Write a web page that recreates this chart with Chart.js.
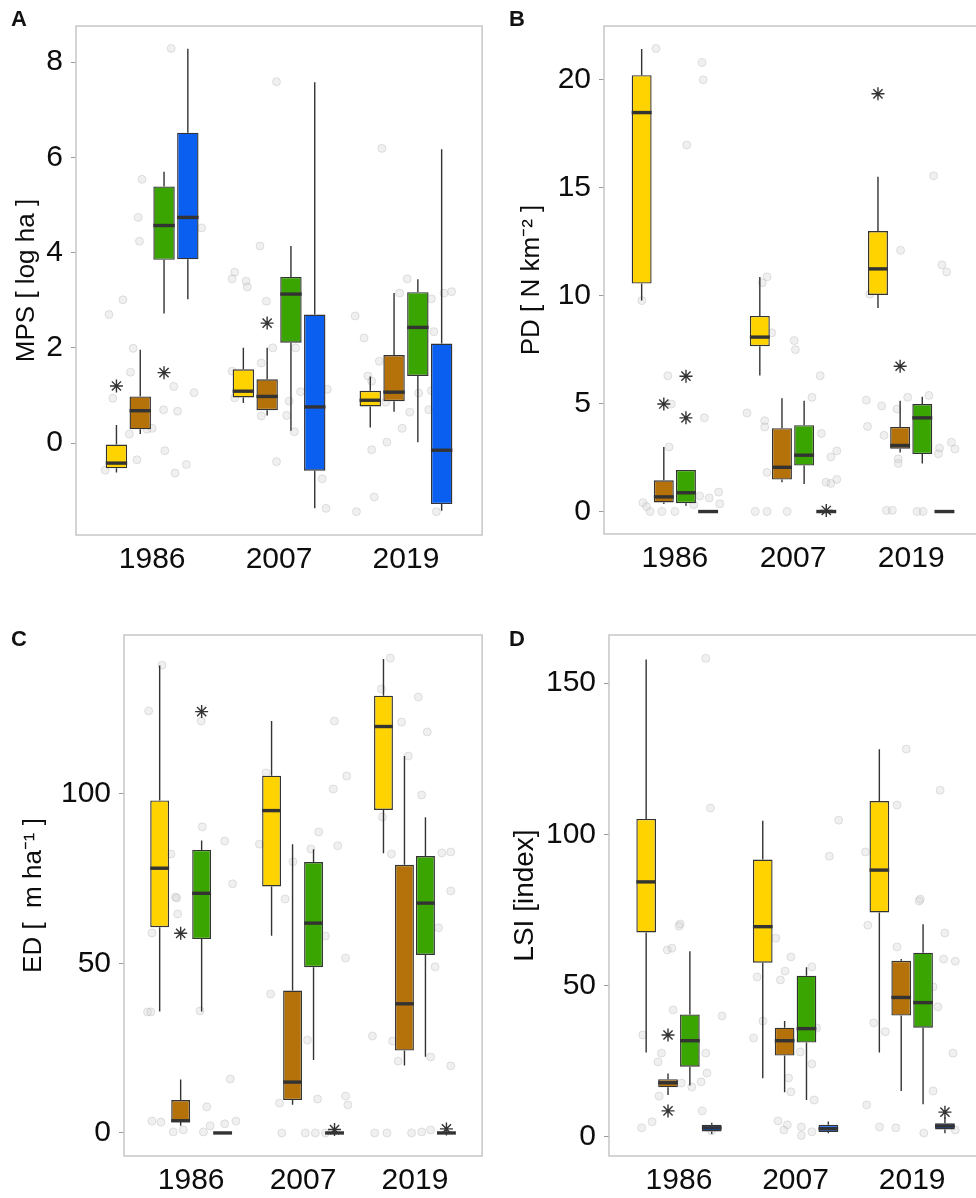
<!DOCTYPE html>
<html>
<head>
<meta charset="utf-8">
<script src="https://cdn.jsdelivr.net/npm/chart.js@4.4.1/dist/chart.umd.min.js"></script>
<style>
    html, body { margin: 0; padding: 0; overflow: hidden; background: #fff; }
    body { position: relative; width: 976px; height: 1198px; font-family: 'Liberation Sans', Arial, sans-serif; }
    .panel { position: absolute; }
    .tag { position: absolute; font-size: 22px; font-weight: bold; line-height: 22px; color: #111; }
</style>
</head>
<body>
<canvas id="chartA" class="panel" width="490" height="600" style="left:0;top:0"></canvas>
<canvas id="chartB" class="panel" width="500" height="600" style="left:490px;top:0"></canvas>
<canvas id="chartC" class="panel" width="490" height="598" style="left:0;top:600px"></canvas>
<canvas id="chartD" class="panel" width="500" height="598" style="left:490px;top:600px"></canvas>
<div class="tag" style="left:11px;top:8px">A</div>
<div class="tag" style="left:509px;top:8px">B</div>
<div class="tag" style="left:11px;top:628px">C</div>
<div class="tag" style="left:509px;top:628px">D</div>
<script>
// ---------------------------------------------------------
// DATA
// ---------------------------------------------------------
const years = ['1986', '2007', '2019'];
const classColors = ['#FFD300', '#B5720A', '#3AA500', '#0A5EF0'];

// box stats per year: [lower whisker, q1, median, q3, upper whisker]
const mpsYellow = [[-0.62, -0.53, -0.42, -0.03, 0.38], [0.84, 0.96, 1.09, 1.55, 2.0], [0.33, 0.77, 0.90, 1.10, 1.40]];
const mpsBrown = [[0.19, 0.29, 0.68, 0.98, 1.96], [0.58, 0.69, 0.98, 1.34, 2.0], [0.66, 0.88, 1.07, 1.85, 3.15]];
const mpsGreen = [[2.72, 3.85, 4.57, 5.39, 5.70], [0.26, 2.11, 3.13, 3.49, 4.14], [0.02, 1.41, 2.43, 3.17, 3.44]];
const mpsBlue = [[3.02, 3.86, 4.74, 6.52, 8.28], [-1.37, -0.58, 0.76, 2.70, 7.58], [-1.42, -1.28, -0.15, 2.09, 6.17]];
// outliers: [class index, year index, value]
const mpsOutliers = [[0, 0, 1.2], [2, 0, 1.48], [1, 1, 2.52]];
const mpsTicks = [0, 2, 4, 6, 8];
const mpsPoints = [
    [1.15, 8.29], [0.92, 5.54], [0.89, 4.74], [0.90, 4.24], [1.39, 4.52], [0.77, 3.01], [1.98, 7.59], [1.85, 4.14],
    [1.65, 3.59], [1.63, 3.45], [1.74, 3.40], [1.75, 3.28], [2.81, 6.19], [3.01, 3.45], [2.95, 3.15], [3.36, 3.18],
    [3.30, 3.15], [3.2, 3.03], [1.9, 2.98], [0.66, 2.7], [0.85, 1.99], [0.83, 1.49], [0.69, 0.94], [1.17, 1.19],
    [1.09, 0.70], [1.2, 0.67], [1.33, 1.06], [0.82, 0.19], [0.96, 0.29], [1.0, 0.31], [0.88, -0.35], [1.1, -0.16],
    [1.18, -0.63], [1.27, -0.45], [0.63, -0.57], [1.95, 2.0], [1.86, 1.68], [1.63, 1.51], [1.65, 0.95], [1.86, 0.57],
    [2.08, 0.88], [2.06, 0.58], [2.12, 0.24], [2.17, 1.08], [2.38, 1.13], [1.98, -0.39], [2.34, -0.75], [2.37, -1.37],
    [2.13, 2.0], [2.6, 2.67], [2.67, 2.21], [2.79, 1.72], [2.7, 1.41], [2.73, 1.3], [2.84, 0.86], [3.03, 0.65],
    [3.1, 1.05], [3.18, 0.70], [2.97, 0.31], [2.73, -0.14], [2.85, 0.02], [2.75, -1.13], [2.61, -1.44], [3.24, -1.44],
    [3.22, 2.34], [3.2, 1.1]
];

const pdYellow = [[9.77, 10.56, 18.48, 20.21, 21.43], [6.30, 7.66, 8.08, 9.06, 10.86], [9.43, 10.03, 11.24, 12.99, 15.51]];
const pdBrown = [[0.35, 0.42, 0.68, 1.45, 2.99], [1.36, 1.48, 2.05, 3.86, 5.25], [2.73, 2.91, 3.06, 3.92, 5.13]];
const pdGreen = [[0.27, 0.39, 0.87, 1.93, 1.93], [1.28, 2.13, 2.61, 4.0, 5.13], [2.23, 2.66, 4.34, 4.98, 5.32]];
const pdBlue = [[0, 0, 0, 0, 0], [0, 0, 0, 0, 0], [0, 0, 0, 0, 0]];
const pdOutliers = [[1, 0, 4.98], [2, 0, 6.27], [2, 0, 4.34], [3, 1, 0.05], [0, 2, 19.35], [1, 2, 6.73]];
const pdTicks = [0, 5, 10, 15, 20];
const pdPoints = [
    [0.84, 21.45], [1.23, 20.8], [1.24, 20.0], [1.1, 16.98], [1.78, 10.87], [1.74, 10.6], [2.91, 12.1], [3.19, 15.55],
    [3.26, 11.43], [3.3, 11.1], [0.72, 9.77], [2.65, 10.07], [0.94, 6.29], [0.97, 4.98], [1.25, 4.34], [0.95, 2.99],
    [0.73, 0.41], [0.76, 0.23], [0.79, 0], [0.89, 0], [1.0, 0], [1.16, 0.32], [1.21, 0.72], [1.29, 0.63],
    [1.37, 0.9], [1.38, 0.36], [1.61, 4.57], [1.76, 4.21], [1.76, 3.92], [2.01, 7.92], [2.02, 7.5], [2.23, 6.29],
    [2.16, 5.29], [2.24, 3.62], [2.37, 2.81], [2.32, 2.53], [1.78, 1.81], [2.37, 1.49], [2.28, 1.36], [2.32, 1.3],
    [1.68, 0], [1.78, 0], [1.95, 0], [1.82, 8.28], [2.62, 5.16], [2.75, 4.89], [2.88, 4.75], [2.97, 5.29],
    [3.15, 5.38], [2.63, 3.94], [2.77, 3.53], [2.89, 2.44], [2.89, 2.23], [3.24, 2.94], [3.34, 3.21], [3.37, 2.9],
    [3.23, 2.68], [2.79, 0.05], [2.84, 0.05], [3.05, 0], [3.1, 0]
];

const edYellow = [[35.8, 60.7, 78.1, 98.1, 137.9], [58.2, 72.7, 95.1, 105.4, 121.5], [82.5, 95.3, 119.9, 129.0, 139.8]];
const edBrown = [[2.1, 3.2, 3.6, 9.7, 15.8], [8.3, 9.7, 15.0, 42.0, 85.2], [19.9, 24.3, 38.1, 79.1, 111.2]];
const edGreen = [[35.8, 57.2, 70.7, 83.5, 86.3], [21.5, 48.9, 61.9, 79.9, 83.7], [22.5, 52.5, 67.8, 81.7, 93.1]];
const edBlue = [[0, 0, 0, 0, 0], [0, 0, 0, 0, 0], [0, 0, 0, 0, 0]];
const edOutliers = [[1, 0, 58.9], [2, 0, 124.3], [3, 1, 1.0], [3, 2, 1.2]];
const edTicks = [0, 50, 100];
const edPoints = [
    [0.74, 138], [0.62, 124.5], [1.09, 121.5], [1.1, 90.3], [1.3, 86.1], [1.37, 73.5], [0.82, 82.3], [0.86, 69.6],
    [2.28, 121.5], [2.39, 105.3], [2.27, 101.5], [2.14, 88.8], [2.31, 84.7], [2.07, 83.8], [1.61, 85.2], [1.67, 106.2],
    [1.91, 80.0], [1.84, 69.0], [2.78, 140.1], [2.7, 131.0], [3.03, 128.6], [2.88, 121.2], [3.11, 118.3], [2.94, 111.2],
    [3.06, 99.7], [2.71, 93.2], [2.79, 82.3], [3.24, 82.6], [3.32, 82.9], [3.32, 71.4], [0.87, 69.3], [0.88, 64.6],
    [0.65, 59.0], [0.61, 35.7], [0.64, 35.7], [1.08, 36.0], [1.35, 15.9], [1.14, 7.7], [0.65, 3.5], [0.73, 3.2],
    [0.84, 0.3], [0.93, 0.9], [1.11, 0.3], [1.17, 2.1], [1.3, 2.7], [1.4, 3.5], [2.2, 58.1], [1.71, 41.0],
    [2.04, 27.4], [1.79, 8.8], [2.13, 10.0], [2.38, 51.6], [2.38, 10.9], [2.4, 8.3], [1.81, 0], [2.02, 0],
    [2.11, 0], [2.2, 0], [2.62, 28.6], [2.8, 27.1], [2.85, 21.2], [3.14, 22.4], [3.32, 19.8], [3.18, 49.0],
    [3.21, 60.5], [2.64, 0], [2.75, 0], [2.97, 0], [3.06, 0.3], [3.14, 0.9]
];

const lsiYellow = [[27.9, 67.6, 84.3, 105.1, 157.8], [19.4, 57.6, 69.5, 91.7, 104.5], [27.9, 74.2, 88.2, 111.0, 128.1]];
const lsiBrown = [[13.9, 16.4, 17.9, 19.1, 21.0], [14.8, 26.9, 31.8, 36.1, 38.3], [15.2, 40.1, 46.1, 58.2, 58.8]];
const lsiGreen = [[17.0, 23.2, 31.8, 40.5, 61.4], [12.2, 31.2, 35.8, 53.3, 56.1], [10.8, 36.1, 44.4, 60.9, 70.3]];
const lsiBlue = [[1.0, 1.8, 3.0, 4.0, 4.7], [1.2, 1.6, 2.7, 4.0, 5.1], [1.2, 2.5, 3.6, 4.5, 6.5]];
const lsiOutliers = [[1, 0, 33.7], [1, 0, 8.6], [3, 2, 8.2]];
const lsiTicks = [0, 50, 100, 150];
const lsiPoints = [
    [1.23, 158.2], [1.27, 108.7], [2.37, 104.7], [2.29, 92.8], [2.6, 94.2], [2.95, 128.2], [2.87, 109.7], [3.24, 114.6],
    [3.07, 78.6], [1.01, 70.4], [1.0, 69.7], [0.9, 61.8], [0.94, 62.4], [0.95, 42.0], [0.69, 33.7], [0.85, 27.7],
    [0.82, 24.8], [1.02, 17.8], [0.83, 13.5], [0.77, 5.0], [0.68, 3.0], [1.23, 27.7], [1.24, 21.1], [1.19, 18.2],
    [1.11, 16.5], [1.2, 8.6], [1.37, 40.0], [1.28, 2.0], [1.83, 65.7], [1.96, 59.5], [1.91, 54.8], [1.87, 51.9],
    [1.67, 52.9], [2.14, 56.2], [1.72, 38.3], [1.64, 32.7], [2.18, 36.0], [2.04, 28.1], [2.14, 24.1], [1.94, 19.5],
    [1.96, 14.9], [2.16, 12.2], [1.85, 5.3], [1.93, 4.0], [1.9, 2.3], [2.05, 3.3], [2.05, 0.5], [2.14, 1.7],
    [3.06, 78.0], [2.62, 70.0], [3.28, 67.4], [2.87, 62.8], [3.27, 58.8], [3.37, 58.1], [3.18, 49.6], [3.22, 43.0],
    [2.67, 37.7], [2.77, 34.8], [3.35, 27.7], [3.18, 15.2], [2.61, 10.6], [2.72, 3.3], [2.86, 3.0], [3.1, 1.3],
    [3.37, 2.3]
];

// ---------------------------------------------------------
// STYLE / LAYOUT
// ---------------------------------------------------------
const FONT = "'Liberation Sans', Arial, sans-serif";
const INK = '#333333';
const CAT_PCT = 0.75;
const DODGE = CAT_PCT / 4;

// whiskers, medians and the panel frame
const boxExtras = {
    id: 'boxExtras',
    afterDatasetsDraw(chart) {
        const { ctx, scales: { y } } = chart;
        ctx.save();
        ctx.strokeStyle = INK;
        chart.data.datasets.forEach((ds, di) => {
            if (!ds.stats) return;
            chart.getDatasetMeta(di).data.forEach((bar, i) => {
                const s = ds.stats[i];
                const half = bar.width / 2;
                ctx.lineWidth = 1.4;
                ctx.beginPath();
                ctx.moveTo(bar.x, y.getPixelForValue(s[3]));
                ctx.lineTo(bar.x, y.getPixelForValue(s[4]));
                ctx.moveTo(bar.x, y.getPixelForValue(s[1]));
                ctx.lineTo(bar.x, y.getPixelForValue(s[0]));
                ctx.stroke();
                ctx.lineWidth = 3.4;
                ctx.beginPath();
                ctx.moveTo(bar.x - half, y.getPixelForValue(s[2]));
                ctx.lineTo(bar.x + half, y.getPixelForValue(s[2]));
                ctx.stroke();
            });
        });
        ctx.restore();
    },
    afterDraw(chart) {
        const { ctx, chartArea: a } = chart;
        ctx.save();
        ctx.strokeStyle = '#c6c6c6';
        ctx.lineWidth = 1.5;
        ctx.strokeRect(a.left, a.top, a.right - a.left, a.bottom - a.top);
        ctx.restore();
    }
};

const makePanel = (canvasId, boxes, outliers, points, tickValues, yMin, yMax, title, geo) => {
    const canvas = document.getElementById(canvasId);
    const boxSets = boxes.map((stats, c) => ({
        type: 'bar',
        data: stats.map((s, i) => ({ x: i + 1, y: [s[1], s[3]] })),
        stats: stats,
        backgroundColor: classColors[c],
        borderColor: INK,
        borderWidth: 1.4,
        borderSkipped: false,
        categoryPercentage: CAT_PCT,
        barPercentage: 0.9,
        order: 1
    }));

    const starSet = {
        type: 'scatter',
        data: outliers.map(o => ({ x: o[1] + 1 + (o[0] - 1.5) * DODGE, y: o[2] })),
        pointStyle: 'star',
        radius: 6.5,
        borderColor: INK,
        backgroundColor: INK,
        borderWidth: 1.4,
        order: 0
    };

    const pointSet = {
        type: 'scatter',
        data: points.map(p => ({ x: p[0], y: p[1] })),
        pointStyle: 'circle',
        radius: 4,
        backgroundColor: 'rgba(205, 205, 205, 0.3)',
        borderColor: 'rgba(165, 165, 165, 0.3)',
        borderWidth: 1,
        order: 5
    };

    new Chart(canvas, {
        type: 'bar',
        data: { datasets: [...boxSets, starSet, pointSet] },
        plugins: [boxExtras],
        options: {
            responsive: false,
            animation: false,
            events: [],
            layout: { padding: { top: geo.top, right: canvas.width - geo.right, left: 0, bottom: 0 } },
            plugins: { legend: { display: false }, tooltip: { enabled: false } },
            scales: {
                x: {
                    type: 'linear',
                    offset: false,
                    min: 0.4,
                    max: 3.6,
                    afterBuildTicks: s => { s.ticks = years.map((_, i) => ({ value: i + 1 })); },
                    afterFit: s => { s.height = canvas.height - geo.bottom; },
                    grid: { display: false, drawTicks: false },
                    border: { display: false },
                    ticks: {
                        padding: 7,
                        color: '#0d0d0d',
                        font: { family: FONT, size: 30 },
                        callback: v => years[Math.round(v) - 1]
                    }
                },
                y: {
                    type: 'linear',
                    min: yMin,
                    max: yMax,
                    afterBuildTicks: s => { s.ticks = tickValues.map(v => ({ value: v })); },
                    afterFit: s => { s.width = geo.left; },
                    grid: { drawOnChartArea: false, drawTicks: true, tickLength: 5, color: '#9a9a9a' },
                    border: { display: false },
                    ticks: {
                        padding: 8,
                        color: '#0d0d0d',
                        font: { family: FONT, size: 30 },
                        callback: v => String(v)
                    },
                    title: {
                        display: true,
                        text: title,
                        color: '#0d0d0d',
                        font: { family: FONT, size: geo.titleSize },
                        padding: { top: geo.titlePad, bottom: 0 }
                    }
                }
            }
        }
    });
};

makePanel('chartA', [mpsYellow, mpsBrown, mpsGreen, mpsBlue], mpsOutliers, mpsPoints, mpsTicks, -1.93, 8.76,
    'MPS [ log ha ]', { left: 76, right: 486, top: 14, bottom: 535, titleSize: 26, titlePad: 11 });
makePanel('chartB', [pdYellow, pdBrown, pdGreen, pdBlue], pdOutliers, pdPoints, pdTicks, -1.04, 22.49,
    'PD [ N km\u207B\u00B2 ]', { left: 114, right: 495, top: 14, bottom: 534, titleSize: 26, titlePad: 26 });
makePanel('chartC', [edYellow, edBrown, edGreen, edBlue], edOutliers, edPoints, edTicks, -6.8, 146.9,
    'ED [  m ha\u207B\u00B9 ]', { left: 124, right: 487, top: 35, bottom: 556, titleSize: 26, titlePad: 18 });
makePanel('chartD', [lsiYellow, lsiBrown, lsiGreen, lsiBlue], lsiOutliers, lsiPoints, lsiTicks, -6.3, 165.9,
    'LSI [index]', { left: 119, right: 495, top: 35, bottom: 556, titleSize: 28, titlePad: 18 });
</script>
</body>
</html>
